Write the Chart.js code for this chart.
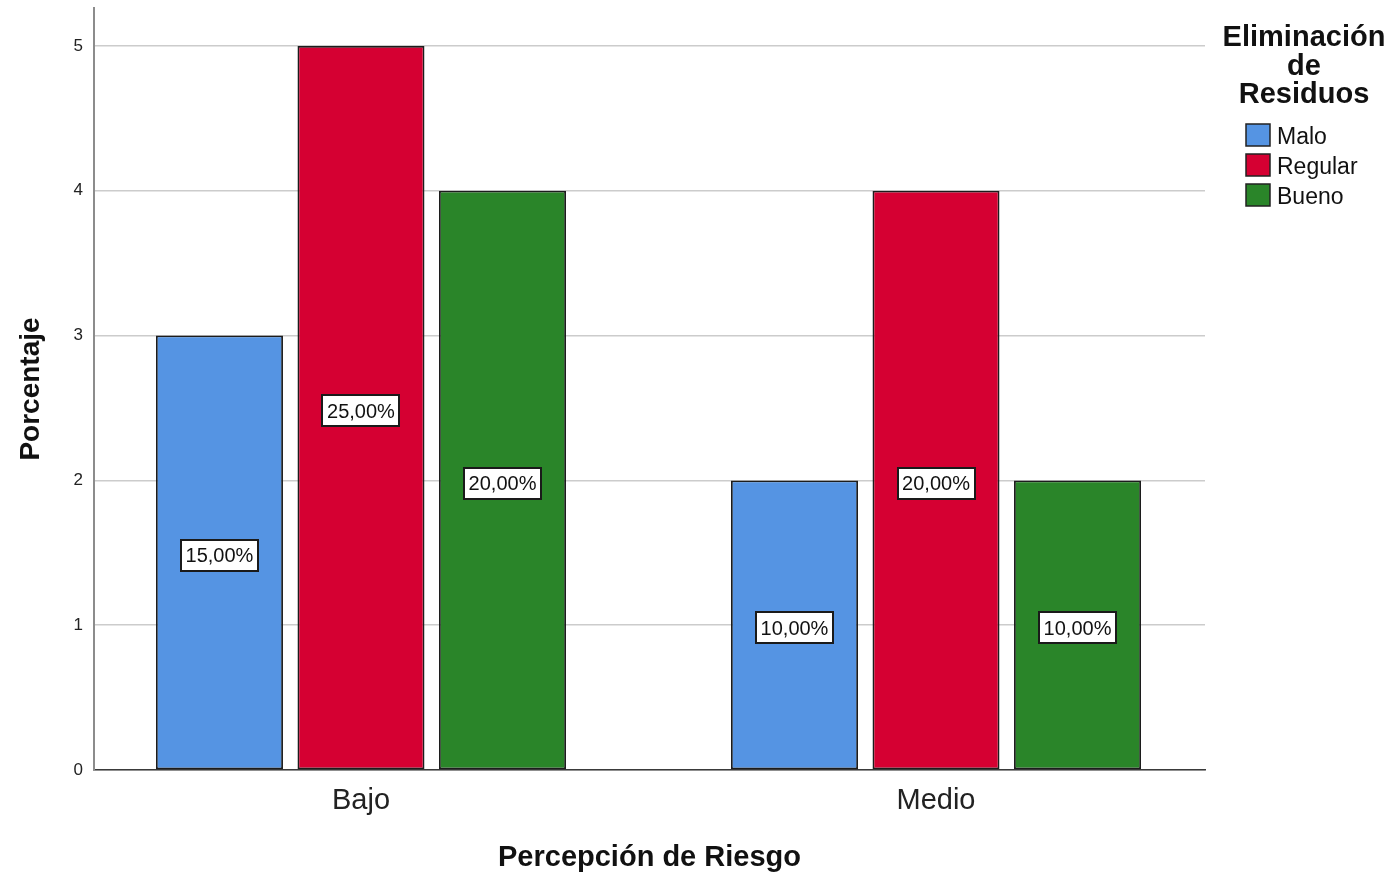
<!DOCTYPE html>
<html>
<head>
<meta charset="utf-8">
<script src="https://cdn.jsdelivr.net/npm/chart.js@4.4.1/dist/chart.umd.min.js"></script>
<style>
  html, body { margin: 0; padding: 0; background: #ffffff; }
  #wrap { width: 1397px; height: 873px; position: relative; }
</style>
</head>
<body>
<div id="wrap"><canvas id="chart" width="1397" height="873"></canvas></div>
<script>
// Categories on the x axis (Percepción de Riesgo)
const categories = ['Bajo', 'Medio'];

// Series (Eliminación de Residuos) – counts per category
const seriesNames = ['Malo', 'Regular', 'Bueno'];
const maloValues = [3, 2];
const regularValues = [5, 4];
const buenoValues = [4, 2];

// Y axis tick labels
const yTicks = [0, 1, 2, 3, 4, 5];

const seriesColors = ['#5594e3', '#d50032', '#2a8529'];
const seriesValues = [maloValues, regularValues, buenoValues];

// Grand total, used to express each bar as a percentage label
const grandTotal = seriesValues.flat().reduce((a, b) => a + b, 0);

const FONT = '"Liberation Sans", Arial, Helvetica, sans-serif';

const datasets = seriesNames.map((name, i) => ({
  label: name,
  data: seriesValues[i].map((v, j) => ({ x: j, y: v })),
  backgroundColor: seriesColors[i],
  borderColor: '#1c1c1c',
  borderWidth: 1.8,
  borderSkipped: false,
  categoryPercentage: 0.7383,
  barPercentage: 0.8975
}));

// Boxed percentage label centred inside every bar
const barLabels = {
  id: 'barLabels',
  afterDatasetsDraw(chart) {
    const ctx = chart.ctx;
    ctx.save();
    ctx.font = '20px ' + FONT;
    ctx.textAlign = 'center';
    ctx.textBaseline = 'alphabetic';
    chart.data.datasets.forEach((ds, di) => {
      const meta = chart.getDatasetMeta(di);
      meta.data.forEach((bar, j) => {
        const v = ds.data[j].y;
        const pct = (v / grandTotal * 100).toFixed(2).replace('.', ',') + '%';
        const cx = bar.x;
        const cy = (bar.y + bar.base) / 2 + 3;
        const w = 79;
        const h = 33;
        const x0 = Math.round(cx - w / 2);
        const y0 = Math.round(cy - h / 2);
        ctx.fillStyle = '#ffffff';
        ctx.fillRect(x0, y0, w, h);
        ctx.strokeStyle = '#1a1a1a';
        ctx.lineWidth = 2;
        ctx.strokeRect(x0 + 1, y0 + 1, w - 2, h - 2);
        ctx.fillStyle = '#111111';
        ctx.fillText(pct, cx, cy + 7);
      });
    });
    ctx.restore();
  }
};

// Legend block with its title at the right of the plot
const sideLegend = {
  id: 'sideLegend',
  afterDraw(chart) {
    const ctx = chart.ctx;
    ctx.save();
    ctx.fillStyle = '#111111';
    ctx.textAlign = 'center';
    ctx.textBaseline = 'alphabetic';
    ctx.font = 'bold 29px ' + FONT;
    const titleLines = ['Eliminación', 'de', 'Residuos'];
    titleLines.forEach((t, i) => ctx.fillText(t, 1304, 46 + i * 28.5));
    ctx.font = '23px ' + FONT;
    ctx.textAlign = 'left';
    chart.data.datasets.forEach((ds, i) => {
      const y = 135 + i * 30;
      ctx.fillStyle = ds.backgroundColor;
      ctx.fillRect(1246, y - 11, 24, 22);
      ctx.strokeStyle = '#222222';
      ctx.lineWidth = 1.5;
      ctx.strokeRect(1246, y - 11, 24, 22);
      ctx.fillStyle = '#111111';
      ctx.fillText(ds.label, 1277, y + 8.5);
    });
    ctx.restore();
  }
};

new Chart(document.getElementById('chart'), {
  type: 'bar',
  data: { datasets },
  options: {
    responsive: false,
    animation: false,
    layout: { padding: { top: 8, right: 192, bottom: 0, left: 0 } },
    plugins: {
      legend: { display: false },
      tooltip: { enabled: false }
    },
    scales: {
      x: {
        type: 'linear',
        offset: false,
        min: -0.4643,
        max: 1.4678,
        afterBuildTicks(scale) {
          scale.ticks = categories.map((c, i) => ({ value: i }));
        },
        afterFit(scale) {
          scale.height = 103;
          scale.paddingLeft = 0;
          scale.paddingRight = 0;
        },
        grid: { display: false, drawTicks: false },
        border: { display: true, color: '#3a3a3a', width: 1.5 },
        ticks: {
          padding: 14,
          color: '#222222',
          maxRotation: 0,
          font: { family: FONT, size: 29 },
          callback: (v) => categories[v] ?? ''
        },
        title: {
          display: true,
          text: 'Percepción de Riesgo',
          color: '#111111',
          font: { family: FONT, size: 29, weight: 'bold', lineHeight: 0.8 },
          padding: { top: 0, bottom: 3 }
        }
      },
      y: {
        min: 0,
        max: 5.262,
        afterBuildTicks(scale) {
          scale.ticks = yTicks.map(v => ({ value: v }));
        },
        afterFit(scale) {
          scale.width = 94;
          scale.paddingTop = 0;
          scale.paddingBottom = 0;
        },
        grid: { color: '#cccccc', lineWidth: 1.5, drawTicks: false },
        border: { display: true, color: '#8c8c8c', width: 2 },
        ticks: {
          padding: 11,
          color: '#222222',
          font: { family: FONT, size: 17 }
        },
        title: {
          display: true,
          text: 'Porcentaje',
          color: '#111111',
          font: { family: FONT, size: 28, weight: 'bold' },
          padding: { top: 14, bottom: 0 }
        }
      }
    }
  },
  plugins: [barLabels, sideLegend]
});
</script>
</body>
</html>
